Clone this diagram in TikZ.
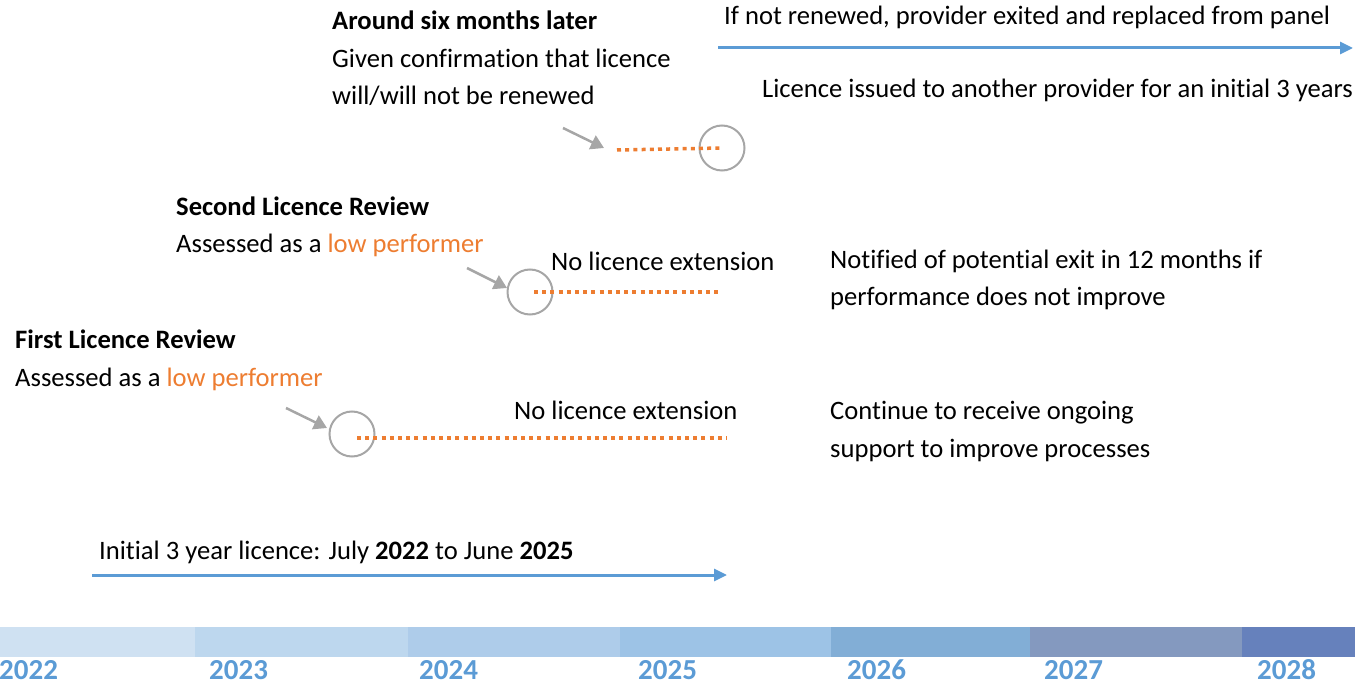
\documentclass[tikz,border=0pt]{standalone}
\usepackage{fontspec}
\setmainfont[Ligatures=CommonOff]{Carlito}
\usetikzlibrary{arrows.meta}
\definecolor{lineblue}{HTML}{5B9BD5}
\definecolor{loworange}{HTML}{ED7D31}
\definecolor{markgrey}{HTML}{A6A6A6}
\definecolor{bar22}{HTML}{CFE1F2}
\definecolor{bar23}{HTML}{BDD7EE}
\definecolor{bar24}{HTML}{AECCEA}
\definecolor{bar25}{HTML}{9DC3E6}
\definecolor{bar26}{HTML}{82AED6}
\definecolor{bar27}{HTML}{8499BF}
\definecolor{bar28}{HTML}{6681BC}
\tikzset{
  txt/.style = {anchor = base west, inner sep = 0pt, font = \fontsize{26.6}{37}\selectfont},
  yeartxt/.style = {anchor = base west, inner sep = 0pt, text = lineblue, font = \fontsize{29}{30}\selectfont\bfseries},
  ring/.style = {circle, draw = markgrey, line width = 2pt, minimum size = 45pt, inner sep = 0pt},
  pointer/.style = {draw = markgrey, line width = 2.5pt, -{Triangle[length = 13pt, width = 15pt]}},
  extension/.style = {draw = loworange, line width = 3.5pt, dash pattern = on 4pt off 4.2pt},
  licence/.style = {draw = lineblue, line width = 3pt, -{Triangle[length = 13pt, width = 12pt]}}
}
\newcommand{\low}{\textcolor{loworange}{low performer}}
\begin{document}
\begin{tikzpicture}[x = 1pt, y = -1pt]
    \useasboundingbox (0, 0) rectangle (1355, 684);
    % year bar
    \fill [bar22] (0, 627) rectangle (195, 657);
    \fill [bar23] (195, 627) rectangle (408, 657);
    \fill [bar24] (408, 627) rectangle (620, 657);
    \fill [bar25] (620, 627) rectangle (831, 657);
    \fill [bar26] (831, 627) rectangle (1030, 657);
    \fill [bar27] (1030, 627) rectangle (1242, 657);
    \fill [bar28] (1242, 627) rectangle (1355, 657);
    \node [yeartxt] (y22) at (-1, 679) {2022};
    \node [yeartxt] (y23) at (209, 679) {2023};
    \node [yeartxt] (y24) at (419, 679) {2024};
    \node [yeartxt] (y25) at (638, 679) {2025};
    \node [yeartxt] (y26) at (847, 679) {2026};
    \node [yeartxt] (y27) at (1044, 679) {2027};
    \node [yeartxt] (y28) at (1257, 679) {2028};
    % initial licence
    \node [txt] (initial) at (99, 559) {Initial 3 year licence: July \textbf{2022} to June \textbf{2025}};
    \coordinate (iniA) at (92, 575);
    \coordinate (iniB) at (727, 575);
    \draw [licence] (iniA) -- (iniB);
    % first review
    \node [txt] (firsthead) at (15, 349) {\textbf{First Licence Review}};
    \node [txt] (firstbody) at (15, 387) {Assessed as a \low};
    \node [ring] (firstring) at (352, 434) {};
    \coordinate (firstfrom) at (286, 408);
    \coordinate (firstto) at (327, 428);
    \draw [pointer] (firstfrom) -- (firstto);
    \coordinate (firstend) at (727, 438);
    \draw [extension] (firstring.center) ++(5, 4) -- (firstend);
    \node [txt] (firstnone) at (514, 420) {No licence extension};
    \node [txt] (firstnote) at (830, 420) {Continue to receive ongoing};
    \node [txt] (firstnote2) at (830, 457) {support to improve processes};
    % second review
    \node [txt] (secondhead) at (176, 216) {\textbf{Second Licence Review}};
    \node [txt] (secondbody) at (176, 253) {Assessed as a \low};
    \node [ring] (secondring) at (530, 292) {};
    \coordinate (secondfrom) at (467, 268);
    \coordinate (secondto) at (507, 288);
    \draw [pointer] (secondfrom) -- (secondto);
    \coordinate (secondend) at (720, 292);
    \draw [extension] (secondring.center) ++(4, 0) -- (secondend);
    \node [txt] (secondnone) at (551, 271) {No licence extension};
    \node [txt] (secondnote) at (830, 269) {Notified of potential exit in 12 months if};
    \node [txt] (secondnote2) at (830, 306) {performance does not improve};
    % six months later
    \node [txt] (laterhead) at (332, 30) {\textbf{Around six months later}};
    \node [txt] (laterbody) at (332, 68) {Given confirmation that licence};
    \node [txt] (laterbody2) at (332, 105) {will/will not be renewed};
    \node [ring] (laterring) at (722, 148) {};
    \coordinate (laterfrom) at (563, 128);
    \coordinate (laterto) at (604, 148);
    \draw [pointer] (laterfrom) -- (laterto);
    \coordinate (laterstart) at (617, 150);
    \draw [extension] (laterstart) -- (laterring.center);
    % replacement
    \node [txt] (exitnote) at (724, 25) {If not renewed, provider exited and replaced from panel};
    \coordinate (exitA) at (718, 48);
    \coordinate (exitB) at (1353, 48);
    \draw [licence] (exitA) -- (exitB);
    \node [txt] (issuenote) at (762, 98) {Licence issued to another provider for an initial 3 years};
\end{tikzpicture}
\end{document}
